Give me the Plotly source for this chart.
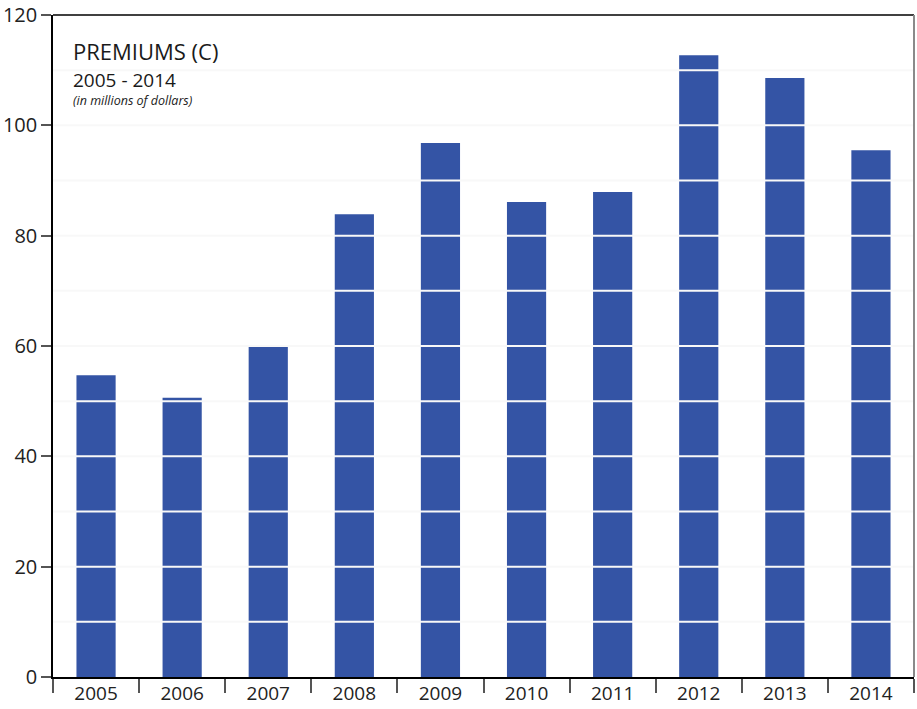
import plotly.graph_objects as go

years = ["2005", "2006", "2007", "2008", "2009", "2010", "2011", "2012", "2013", "2014"]
premiums = [54.7, 50.6, 60.0, 83.9, 96.8, 86.1, 87.9, 112.7, 108.6, 95.5]
grid_levels = [10, 20, 30, 40, 50, 60, 70, 80, 90, 100, 110]
y_ticks = [0, 20, 40, 60, 80, 100, 120]

BAR_COLOR = "#3454a5"
FONT = "Open Sans, sans-serif"

fig = go.Figure()
fig.add_trace(
    go.Bar(
        x=years,
        y=premiums,
        marker={"color": BAR_COLOR, "line": {"width": 0}},
        hovertemplate="%{x}: %{y:.1f}<extra></extra>",
    )
)

# white-ish gridlines drawn on top of the bars
shapes = [
    {
        "type": "line", "xref": "paper", "yref": "y", "layer": "above",
        "x0": 0, "x1": 1, "y0": g, "y1": g,
        "line": {"color": "#f8f8f8", "width": 2},
    }
    for g in grid_levels
]
# top frame (black) and right frame (grey)
shapes.append({
    "type": "line", "xref": "paper", "yref": "paper", "layer": "above",
    "x0": 0, "x1": 1, "y0": 1, "y1": 1, "line": {"color": "#000000", "width": 1.5},
})
shapes.append({
    "type": "line", "xref": "paper", "yref": "paper", "layer": "above",
    "x0": 1, "x1": 1, "y0": 0, "y1": 1, "line": {"color": "#8a8a8a", "width": 2},
})

fig.update_layout(
    width=917,
    height=709,
    margin={"l": 53, "r": 3, "t": 15, "b": 32},
    paper_bgcolor="#ffffff",
    plot_bgcolor="#ffffff",
    bargap=0.545,
    showlegend=False,
    font={"family": FONT, "size": 19, "color": "#222222"},
    shapes=shapes,
    annotations=[
        {"text": "PREMIUMS (C)", "xref": "paper", "yref": "paper", "x": 0.021, "y": 0.972,
         "xanchor": "left", "yanchor": "top", "showarrow": False,
         "font": {"family": FONT, "size": 22, "color": "#1a1a1a"}},
        {"text": "2005 - 2014", "xref": "paper", "yref": "paper", "x": 0.021, "y": 0.925,
         "xanchor": "left", "yanchor": "top", "showarrow": False,
         "font": {"family": FONT, "size": 19, "color": "#1a1a1a"}},
        {"text": "<i>(in millions of dollars)</i>", "xref": "paper", "yref": "paper",
         "x": 0.021, "y": 0.886, "xanchor": "left", "yanchor": "top", "showarrow": False,
         "font": {"family": FONT, "size": 12.5, "color": "#1a1a1a"}},
    ],
)
fig.update_xaxes(
    automargin=False,
    showline=True, linecolor="#000000", linewidth=1.5,
    ticks="outside", tickson="boundaries", ticklen=14, tickcolor="#555555", tickwidth=1.5,
    ticklabelstandoff=-2,
    showgrid=False, tickfont={"size": 19},
)
fig.update_yaxes(
    automargin=False,
    range=[0, 120], tickvals=y_ticks,
    showline=True, linecolor="#000000", linewidth=1.5,
    ticks="outside", ticklen=10, tickcolor="#555555", tickwidth=1.5,
    showgrid=False, zeroline=False, tickfont={"size": 20},
)

fig.write_html(
    "out.html",
    config={"displayModeBar": False},
    post_script="document.body.style.margin='0';",
)
